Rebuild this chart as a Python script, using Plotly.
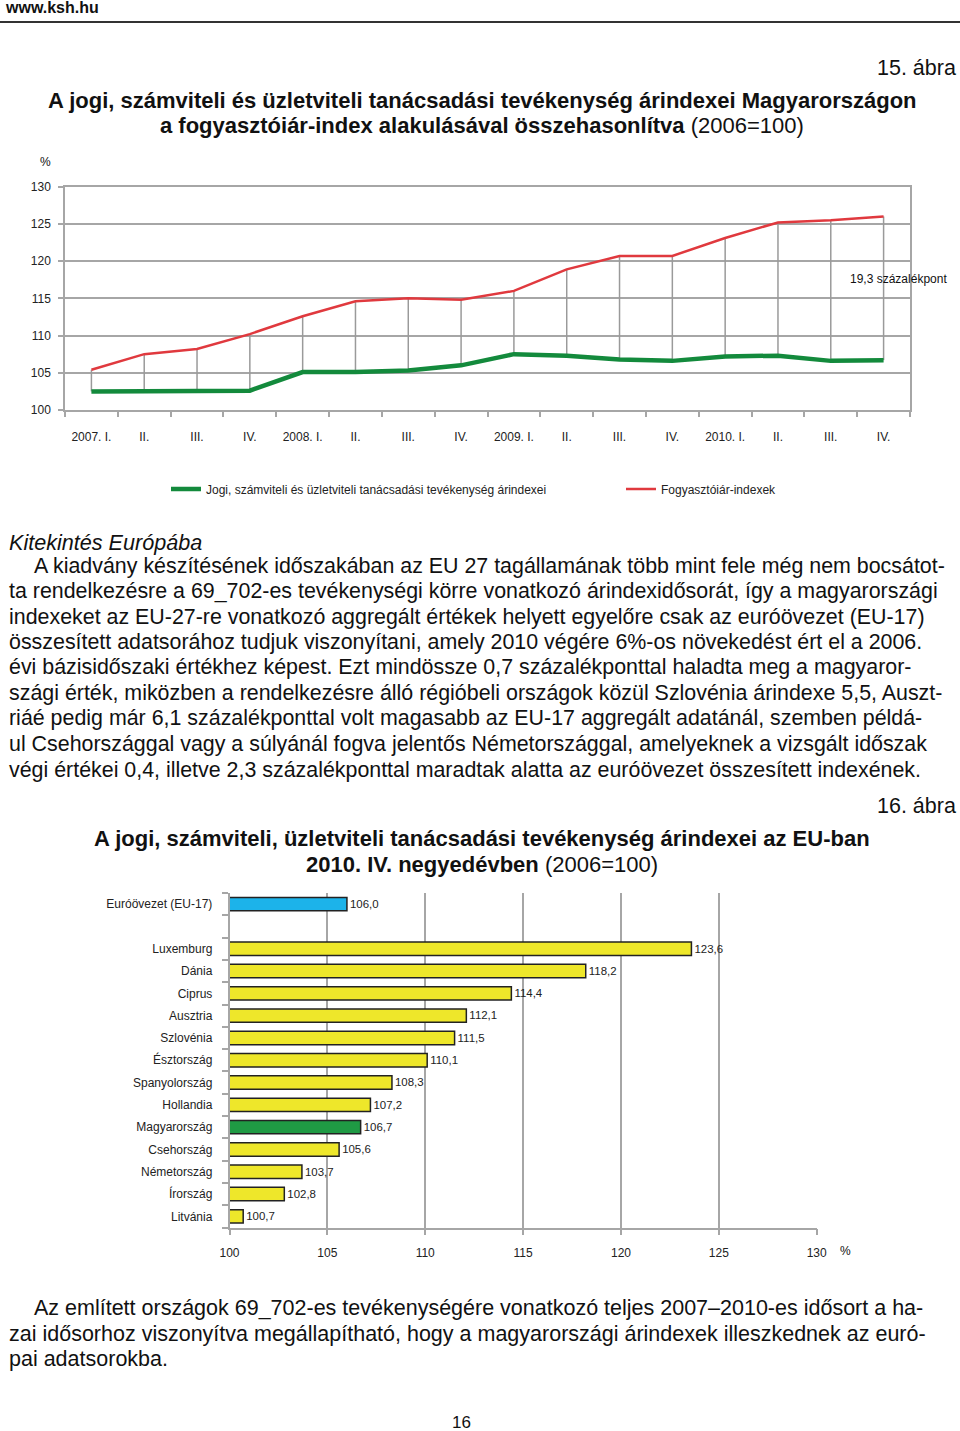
import plotly.graph_objects as go

# ---------------- data ----------------
quarters = ["2007. I.", "II.", "III.", "IV.",
            "2008. I.", "II.", "III.", "IV.",
            "2009. I.", "II.", "III.", "IV.",
            "2010. I.", "II.", "III.", "IV."]
jogi_index = [102.5, 102.5, 102.6, 102.6, 105.1, 105.1, 105.3, 106.0,
              107.5, 107.3, 106.8, 106.6, 107.2, 107.3, 106.6, 106.7]
fogy_index = [105.4, 107.5, 108.2, 110.2, 112.6, 114.6, 115.0, 114.8,
              116.0, 118.9, 120.7, 120.7, 123.1, 125.2, 125.5, 126.0]
series_names = ["Jogi, számviteli és üzletviteli tanácsadási tevékenység árindexei",
                "Fogyasztóiár-indexek"]

bar_labels = ["Euróövezet (EU-17)", "Luxemburg", "Dánia", "Ciprus", "Ausztria",
              "Szlovénia", "Észtország", "Spanyolország", "Hollandia",
              "Magyarország", "Csehország", "Németország", "Írország", "Litvánia"]
bar_values = [106.0, 123.6, 118.2, 114.4, 112.1, 111.5, 110.1, 108.3, 107.2,
              106.7, 105.6, 103.7, 102.8, 100.7]

line_ticks = [100, 105, 110, 115, 120, 125, 130]
bar_ticks = [100, 105, 110, 115, 120, 125, 130]

# ---------------- styles ----------------
W, H = 960, 1431
GREEN = "#138a3c"
RED = "#e0393e"
GRID = "#a6a6a6"
NARROW = "Liberation Sans Narrow, Arial Narrow, Liberation Sans, Arial, sans-serif"
SANS = "Liberation Sans, Arial, sans-serif"


def X(px):
    return px / W


def Y(py):
    return 1 - py / H


fig = go.Figure()

# ---------------- top line chart ----------------
xi = list(range(len(quarters)))
dx, dy = [], []
for i, (a, b) in enumerate(zip(jogi_index, fogy_index)):
    dx += [i, i, None]
    dy += [a, b, None]
fig.add_trace(go.Scatter(x=dx, y=dy, mode="lines", line=dict(color="#9a9a9a", width=1.5),
                         showlegend=False, hoverinfo="skip", xaxis="x", yaxis="y"))
fig.add_trace(go.Scatter(x=xi, y=jogi_index, mode="lines", name=series_names[0],
                         line=dict(color=GREEN, width=4.5), xaxis="x", yaxis="y",
                         legend="legend"))
fig.add_trace(go.Scatter(x=xi, y=fogy_index, mode="lines", name=series_names[1],
                         line=dict(color=RED, width=2.5), xaxis="x", yaxis="y",
                         legend="legend2"))

# ---------------- bar chart ----------------
slots = [0] + list(range(2, 2 + len(bar_labels) - 1))
colors = []
for lab in bar_labels:
    if lab.startswith("Euró"):
        colors.append("#1cb3ea")
    elif lab == "Magyarország":
        colors.append("#1f9a44")
    else:
        colors.append("#eee72a")
fig.add_trace(go.Bar(x=bar_values, y=slots, orientation="h", width=0.6,
                     marker=dict(color=colors, line=dict(color="#222222", width=1.5)),
                     texttemplate="%{x:.1f}", textposition="outside",
                     textfont=dict(family=NARROW, size=12, color="#222"),
                     cliponaxis=False, showlegend=False, xaxis="x2", yaxis="y2"))

legend_common = dict(orientation="h", yanchor="middle", xanchor="left",
                     bgcolor="rgba(0,0,0,0)", font=dict(family=NARROW, size=12, color="#222"),
                     itemclick=False, itemdoubleclick=False)

fig.update_layout(
    width=W, height=H, margin=dict(l=0, r=0, t=0, b=0, autoexpand=False),
    paper_bgcolor="white", plot_bgcolor="white",
    separators=", ",
    font=dict(family=NARROW, size=12, color="#222"),
    xaxis=dict(domain=[X(65), X(910)], range=[-0.5, len(quarters) - 0.5], automargin=False,
               tickmode="array", tickvals=xi, ticktext=quarters, ticks="",
               ticklabelstandoff=15, showgrid=False, zeroline=False,
               showline=True, linecolor=GRID, linewidth=1.5, mirror=True,
               minor=dict(ticks="outside", ticklen=5, tickcolor=GRID, tickwidth=1.5,
                          tick0=-0.5, dtick=1, showgrid=False),
               tickfont=dict(family=NARROW, size=12), anchor="y", fixedrange=True),
    yaxis=dict(domain=[Y(410), Y(186.7)], range=[100, 130], automargin=False,
               tickmode="array", tickvals=line_ticks, ticks="outside", ticklen=5,
               tickcolor=GRID, tickwidth=1.5, ticklabelstandoff=5,
               showgrid=True, gridcolor=GRID, gridwidth=1.5, zeroline=False,
               showline=True, linecolor=GRID, linewidth=1.5, mirror=True,
               tickfont=dict(family=NARROW, size=12), anchor="x", fixedrange=True),
    xaxis2=dict(domain=[X(229.5), X(816.7)], range=[100, 130], automargin=False,
                tickmode="array", tickvals=bar_ticks, ticks="outside", ticklen=6,
                tickcolor=GRID, tickwidth=1.5, ticklabelstandoff=7,
                showgrid=True, gridcolor=GRID, gridwidth=1.5, zeroline=False,
                showline=True, linecolor=GRID, linewidth=1.5,
                tickfont=dict(family=NARROW, size=12), anchor="y2", fixedrange=True),
    yaxis2=dict(domain=[Y(1227.5), Y(893)], range=[len(bar_labels) + 0.5, -0.5],
                automargin=False,
                tickmode="array", tickvals=slots, ticktext=bar_labels, ticks="",
                ticklabelstandoff=13, showgrid=False, zeroline=False,
                showline=True, linecolor=GRID, linewidth=1.5,
                minor=dict(ticks="outside", ticklen=6, tickcolor=GRID, tickwidth=1.5,
                           tick0=-0.5, dtick=1, showgrid=False),
                tickfont=dict(family=NARROW, size=12), anchor="x2", fixedrange=True),
    legend=dict(x=X(166), y=Y(489), **legend_common),
    legend2=dict(x=X(621), y=Y(489), **legend_common),
    showlegend=True,
)

ann = []


def txt(x, y, text, size, anchor="left", family=SANS, italic=False, color="#111"):
    style = "italic" if italic else "normal"
    ann.append(dict(x=X(x), y=Y(y), xref="paper", yref="paper", text=text,
                    showarrow=False, xanchor=anchor, yanchor="middle",
                    font=dict(family=family, size=size, color=color, style=style)))


# header
txt(3, 8, "<b>www.ksh.hu</b>", 16, family=NARROW)
txt(958, 68, "15. ábra", 21.5, anchor="right", family=NARROW)
txt(482, 100, "<b>A jogi, számviteli és üzletviteli tanácsadási tevékenység árindexei Magyarországon</b>",
    22, anchor="center", family=NARROW)
txt(482, 126, "<b>a fogyasztóiár-index alakulásával összehasonlítva</b> (2006=100)",
    22, anchor="center", family=NARROW)
txt(45, 162, "%", 12, anchor="center", family=NARROW)

diff = fogy_index[-1] - jogi_index[-1]
txt(898, 279, f"{diff:.1f}".replace(".", ",") + " százalékpont", 12, anchor="center", family=NARROW)

# paragraph
txt(7, 542, "Kitekintés Európába", 21.6, italic=True)
para1 = [
    "A kiadvány készítésének időszakában az EU 27 tagállamának több mint fele még nem bocsátot-",
    "ta rendelkezésre a 69_702-es tevékenységi körre vonatkozó árindexidősorát, így a magyarországi",
    "indexeket az EU-27-re vonatkozó aggregált értékek helyett egyelőre csak az euróövezet (EU-17)",
    "összesített adatsorához tudjuk viszonyítani, amely 2010 végére 6%-os növekedést ért el a 2006.",
    "évi bázisidőszaki értékhez képest. Ezt mindössze 0,7 százalékponttal haladta meg a magyaror-",
    "szági érték, miközben a rendelkezésre álló régióbeli országok közül Szlovénia árindexe 5,5, Auszt-",
    "riáé pedig már 6,1 százalékponttal volt magasabb az EU-17 aggregált adatánál, szemben példá-",
    "ul Csehországgal vagy a súlyánál fogva jelentős Németországgal, amelyeknek a vizsgált időszak",
    "végi értékei 0,4, illetve 2,3 százalékponttal maradtak alatta az euróövezet összesített indexének.",
]
ys1 = [566, 591, 617, 642, 667, 693, 718, 744, 770]
for i, (line, yy) in enumerate(zip(para1, ys1)):
    txt(32 if i == 0 else 7, yy, line, 21.4)

# second chart titles
txt(958, 806, "16. ábra", 21.5, anchor="right", family=NARROW)
txt(482, 838, "<b>A jogi, számviteli, üzletviteli tanácsadási tevékenység árindexei az EU-ban</b>",
    22, anchor="center", family=NARROW)
txt(482, 864, "<b>2010. IV. negyedévben</b> (2006=100)", 22, anchor="center", family=NARROW)
txt(845, 1251, "%", 12, anchor="center", family=NARROW)

para2 = [
    "Az említett országok 69_702-es tevékenységére vonatkozó teljes 2007–2010-es idősort a ha-",
    "zai idősorhoz viszonyítva megállapítható, hogy a magyarországi árindexek illeszkednek az euró-",
    "pai adatsorokba.",
]
ys2 = [1308, 1334, 1359]
for i, (line, yy) in enumerate(zip(para2, ys2)):
    txt(32 if i == 0 else 7, yy, line, 21.5, family=NARROW)

txt(461, 1422, "16", 17, anchor="center", family=NARROW)

fig.update_layout(annotations=ann)
fig.add_shape(type="line", xref="paper", yref="paper", x0=0, x1=1, y0=Y(22), y1=Y(22),
              line=dict(color="#333", width=2))

# remove the default page margin so the figure sits at the window's top-left corner
fig.write_html("out.html",
               config={"displayModeBar": False},
               post_script="document.body.style.margin='0';document.body.style.overflow='hidden';")
